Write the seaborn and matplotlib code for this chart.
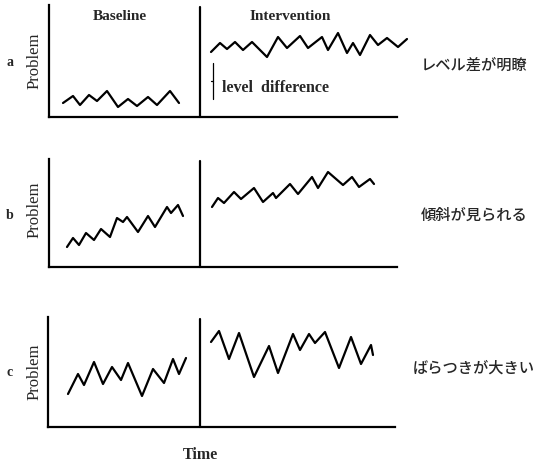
import numpy as np
import pandas as pd
import matplotlib.pyplot as plt
import seaborn as sns

# 各パネルのデータ（時間, 問題行動の水準）
a_base_t = [1.4, 2.4, 3.1, 4.0, 4.8, 5.8, 6.9, 7.9, 8.8, 9.9, 10.8, 12.1, 13.0]
a_base_y = [1.4, 2.1, 1.2, 2.2, 1.6, 2.6, 1.0, 1.8, 1.1, 2.0, 1.2, 2.6, 1.4]
a_int_t = [16.2, 17.1, 17.8, 18.6, 19.4, 20.3, 21.8, 22.9, 23.8, 25.1, 25.9,
           27.3, 27.9, 28.9, 29.8, 30.4, 31.1, 32.1, 32.9, 33.8, 34.9, 35.8]
a_int_y = [6.5, 7.4, 6.8, 7.5, 6.7, 7.5, 6.0, 8.0, 6.9, 8.1, 6.9,
           8.0, 6.7, 8.4, 6.4, 7.4, 6.2, 8.2, 7.2, 7.9, 7.0, 7.8]

b_base_t = [1.8, 2.4, 3.0, 3.7, 4.5, 5.2, 6.1, 6.8, 7.4, 7.8, 8.9, 9.9, 10.6, 11.8, 12.2, 12.9, 13.4]
b_base_y = [2.0, 2.9, 2.2, 3.4, 2.7, 3.8, 3.0, 4.9, 4.5, 5.0, 3.5, 5.1, 4.0, 6.0, 5.4, 6.2, 5.1]
b_int_t = [16.3, 16.9, 17.5, 18.5, 19.2, 20.5, 21.4, 22.4, 22.7, 24.1, 24.9,
           26.3, 26.9, 27.9, 29.4, 30.3, 31.0, 32.1, 32.5]
b_int_y = [6.0, 6.9, 6.4, 7.5, 6.8, 7.9, 6.5, 7.4, 6.9, 8.3, 7.3,
           9.0, 7.9, 9.5, 8.2, 9.0, 8.0, 8.8, 8.3]

c_base_t = [2.0, 3.0, 3.6, 4.6, 5.5, 6.4, 7.3, 8.0, 9.4, 10.5, 11.6, 12.5, 13.1, 13.8]
c_base_y = [3.3, 5.3, 4.2, 6.5, 4.3, 6.0, 4.7, 6.4, 3.1, 5.8, 4.4, 6.8, 5.3, 6.9]
c_int_t = [16.3, 17.1, 18.1, 19.1, 20.6, 22.1, 23.0, 24.5, 25.2, 26.1, 26.7,
           27.7, 29.1, 30.3, 31.3, 32.3, 32.5]
c_int_y = [8.5, 9.6, 6.8, 9.4, 5.0, 8.1, 5.4, 9.3, 7.7, 9.3, 8.4,
           9.5, 5.9, 9.0, 6.3, 8.2, 7.2]

panel_letters = ['a', 'b', 'c']
panel_notes = ['レベル差が明瞭', '傾斜が見られる', 'ばらつきが大きい']
phase_change = [15.1, 15.1, 15.2]
axis_end = [34.8, 34.8, 34.7]

sns.set_theme(style="white")
plt.rcParams['font.family'] = ['Liberation Serif', 'DejaVu Serif']

W, H = 539, 465
fig = plt.figure(figsize=(W / 100, H / 100), dpi=100)

# 軸の位置（ピクセル: left, top, bottom）と文字の縦位置
boxes = [(49, 5, 117), (49, 159, 267), (48, 317, 427)]
letter_y = [63, 215, 372]
ylabel_y = [61, 210, 372]
note_y = [65, 215, 368]
data = [(a_base_t, a_base_y, a_int_t, a_int_y),
        (b_base_t, b_base_y, b_int_t, b_int_y),
        (c_base_t, c_base_y, c_int_t, c_int_y)]

axes = []
for i, (left, top, bottom) in enumerate(boxes):
    h = bottom - top
    ax = fig.add_axes([left / W, (H - bottom) / H, 360 / W, h / H])
    bt, by, it, iy = data[i]
    df = pd.DataFrame({
        'time': bt + it,
        'level': by + iy,
        'phase': ['Baseline'] * len(bt) + ['Intervention'] * len(it),
    })
    sns.lineplot(data=df, x='time', y='level', units='phase', estimator=None,
                 sort=False, color='black', lw=1.6, ax=ax, legend=False)
    ax.set_xlim(0, 36)
    ax.set_ylim(0, h / 10)
    ax.axvline(phase_change[i], color='black', lw=1.6, ymax=0.98)
    for s in ['top', 'right']:
        ax.spines[s].set_visible(False)
    for s in ['left', 'bottom']:
        ax.spines[s].set_color('black')
        ax.spines[s].set_linewidth(1.6)
    ax.spines['bottom'].set_bounds(0, axis_end[i])
    ax.set_xticks([])
    ax.set_yticks([])
    ax.set_xlabel('')
    ax.set_ylabel('')
    ax.patch.set_alpha(0)
    for ln in ax.lines:
        ln.set_clip_on(False)
    axes.append(ax)

    fig.text(10 / W, 1 - letter_y[i] / H, panel_letters[i], fontsize=10,
             fontweight='bold', ha='center', va='center')
    fig.text(35 / W, 1 - ylabel_y[i] / H, 'Problem', fontsize=12, rotation=90,
             ha='center', va='center')
    fig.text(474 / W, 1 - note_y[i] / H, panel_notes[i], fontsize=11,
             fontweight='medium', family=['Noto Sans CJK JP', 'DejaVu Sans'],
             ha='center', va='center')

# フェーズ名
fig.text(120 / W, 1 - 16 / H, 'Baseline', fontsize=11, fontweight='bold',
         ha='center', va='center')
fig.text(290 / W, 1 - 17 / H, 'Intervention', fontsize=11, fontweight='bold',
         ha='center', va='center')

# レベル差の括弧
ax = axes[0]
bx = 16.4
ax.plot([bx, bx], [1.8, 5.4], color='black', lw=0.9, clip_on=False)
ax.plot([bx, bx - 0.2], [3.6, 3.6], color='black', lw=0.9, clip_on=False)
ax.text(17.3, 2.9, 'level  difference', fontsize=11.5, fontweight='bold',
        ha='left', va='center')

fig.text(200 / W, 1 - 455 / H, 'Time', fontsize=11.5, fontweight='bold',
         ha='center', va='center')

fig.savefig('out.png', dpi=100)
